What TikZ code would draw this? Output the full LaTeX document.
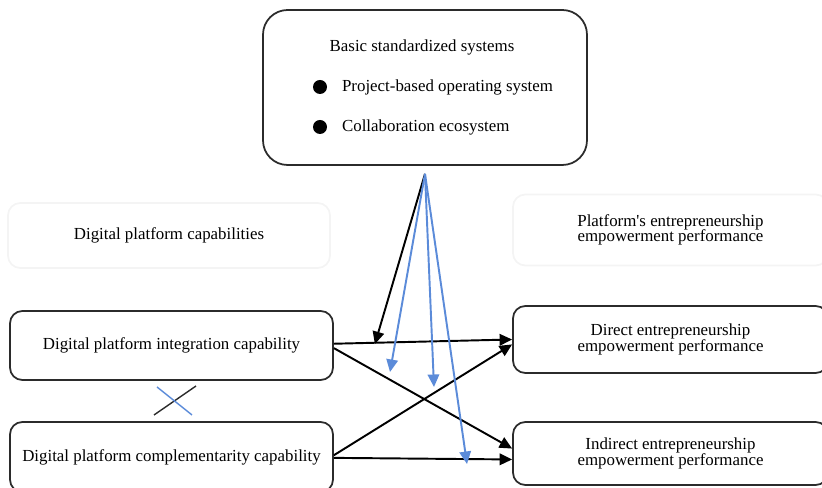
\documentclass[tikz,border=0pt]{standalone}
\usepackage{fontspec}
\setmainfont{Liberation Serif}
\usetikzlibrary{arrows.meta, positioning, calc}
\definecolor{cblue}{HTML}{5B8BD9}
\definecolor{cframe}{HTML}{2B2B2B}
\definecolor{cfaint}{HTML}{F4F4F4}
\tikzset{
  every picture/.style={font=\fontsize{9.6}{8.9}\selectfont, line width=1pt},
  box/.style={draw=cframe, fill=white, rounded corners=7pt, align=center, minimum width=6.46cm, minimum height=1.38cm},
  faint/.style={draw=cfaint, rounded corners=7pt, align=center, minimum width=6.44cm, minimum height=1.3cm},
  dot/.style={circle, fill=black, inner sep=0pt, minimum size=0.28cm},
  arrow/.style={-{Triangle[length=2.5mm, width=2.3mm]}, draw=black, line width=1.1pt},
  barrow/.style={arrow, draw=cblue},
}

\begin{document}
\begin{tikzpicture}
  \useasboundingbox (0,0) rectangle (16.44,9.76);
  \clip (0,0) rectangle (16.44,9.76);
  % moderating systems
  \node[box, rounded corners=14pt, minimum width=6.48cm, minimum height=3.1cm] (sys) at (8.5, 8.01) {};
  \node (ttl) at (8.44, 8.82) {Basic standardized systems};
  \foreach \t [count=\i] in {Project-based operating system, Collaboration ecosystem} {
    \node[dot] (b\i) at (6.4, 8.82 - 0.8*\i) {};
    \node[right=0.15cm of b\i] (t\i) {\t};
  }
  \coordinate (hub) at ([yshift=-0.16cm]sys.south);
  % group headings
  \node[faint] (capl) at (3.38, 5.05) {Digital platform capabilities};
  \node[faint, minimum width=6.3cm, minimum height=1.42cm] (perf) at (13.41, 5.16) {Platform\textquotesingle s entrepreneurship\\empowerment performance};
  % capabilities and performance
  \node[box] (integ) at (3.43, 2.85) {Digital platform integration capability};
  \node[box, minimum height=1.4cm] (compl) at (3.43, 0.62) {Digital platform complementarity capability};
  \node[box, minimum width=6.3cm, minimum height=1.34cm] (direct) at (13.41, 2.97) {Direct entrepreneurship\\empowerment performance};
  \node[box, minimum width=6.3cm, minimum height=1.26cm] (indirect) at (13.41, 0.69) {Indirect entrepreneurship\\empowerment performance};
  % interaction mark
  \coordinate (xc) at ($(integ.south)!0.5!(compl.north)$);
  \draw[draw=cframe, line width=0.8pt] ($(xc)+(-0.35,-0.28)$) -- ($(xc)+(0.49,0.30)$);
  \draw[draw=cblue, line width=0.8pt] ($(xc)+(-0.29,0.28)$) -- ($(xc)+(0.41,-0.28)$);
  % main paths
  \draw[arrow] ([yshift=1pt]integ.east) -- (direct.west);
  \draw[arrow] ([yshift=-1.5pt]integ.east) -- ([yshift=2.8pt]indirect.west);
  \draw[arrow] ([yshift=1pt]compl.east) -- ([yshift=-2.8pt]direct.west);
  \draw[arrow] ([yshift=-0.5pt]compl.east) -- ([yshift=-3.4pt]indirect.west);
  % moderation
  \coordinate (m1) at (7.8, 2.32);
  \coordinate (m2) at (8.68, 2.02);
  \coordinate (m3) at (9.34, 0.48);
  \draw[arrow] (hub) -- ($(integ.east)!0.23!(direct.west)$);
  \foreach \m in {m1, m2, m3} {
    \draw[barrow] (hub) -- (\m);
  }
\end{tikzpicture}
\end{document}
